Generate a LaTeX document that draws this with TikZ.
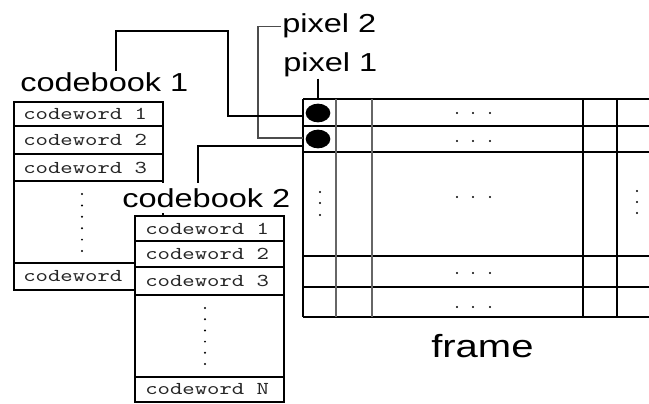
\documentclass[tikz,border=0pt]{standalone}
\usepackage{fontspec}
\newfontfamily\labelfont[FakeStretch=1.25]{Liberation Sans}
\newfontfamily\wordfont[FakeStretch=1.3]{lmmono10-regular.otf}
\usetikzlibrary{shapes.geometric}

\tikzset{
  boxline/.style={line width=1.6pt},
  gridline/.style={line width=1.4pt},
  greyline/.style={line width=1.8pt, black!60},
  linkline/.style={line width=1.3pt},
  thinlink/.style={line width=1pt, black!70},
  bigtext/.style={inner sep=0.75pt, font=\labelfont\fontsize{19.5}{22}\selectfont},
  wordtext/.style={anchor=west, inner sep=0.75pt, text=black!85, font=\wordfont\fontsize{13.6}{15}\selectfont},
  pixdot/.style={ellipse, fill=black, inner sep=0pt, minimum width=18.5pt, minimum height=14pt},
}

\begin{document}
\begin{tikzpicture}[x=0.75pt,y=0.75pt,yscale=-1,xscale=1]
\useasboundingbox (0,0) rectangle (649,403);

%Frame grid
\foreach \y in {99,126,152,256,287,317}
  \draw [gridline] (303,\y) -- (649,\y) ;
\draw [gridline] (303,99) -- (303,317) ;
\draw [greyline] (336,99) -- (336,317) ;
\draw [greyline] (372,99) -- (372,317) ;
\draw [gridline] (583,99) -- (583,317) ;
\draw [gridline] (617,99) -- (617,317) ;
%Frame dots
\foreach \y in {113,141,197,273,307}
  \foreach \x in {457,473,490}
    \fill (\x,\y) circle (1.1) ;
\foreach \y in {192,203,215}
  \fill (320,\y) circle (1.1) ;
\foreach \y in {191,202,213}
  \fill (637,\y) circle (1.1) ;

%Pixels
\node [pixdot] (pix1) at (318,113) {};
\node [pixdot] (pix2) at (318,139) {};

%Entry points on the frame
\coordinate (entry1) at (303,116) ;
\coordinate (entry2) at (303,138) ;
\coordinate (entry3) at (303,146) ;
\coordinate (frametop) at (303,99) ;
\coordinate (bend1) at (228,31) ;
\coordinate (bend2) at (258,138) ;

% Text Node
\node [bigtext, anchor=base west] (lbpixtwo) at (281,33) {pixel 2};
% Text Node
\node [bigtext, anchor=base west] (lbpixone) at (282,72) {pixel 1};
% Text Node
\node [bigtext, anchor=base west] (lbcbone) at (19,91) {codebook 1};
% Text Node
\node [bigtext, anchor=base west, font=\labelfont\fontsize{24}{27}\selectfont] (frame) at (430,357) {frame};

%Connectors
\draw [linkline] (lbpixone.south -| pix1) -- (pix1 |- frametop) ;
\draw [thinlink] (lbpixtwo.west) -| (bend2) -- (entry2) ;
\draw [linkline] ([xshift=9pt]lbcbone.north) |- (bend1) |- (entry1) ;

%Codebook 1
\draw [boxline, fill=white] (14,102) rectangle (163,290) ;
\foreach \y in {126,154,181,263}
  \draw [boxline] (14,\y) -- (163,\y) ;
\foreach \i in {0,...,5}
  \fill (82,194+11.4*\i) circle (1.1) ;
% Text Node
\node [wordtext] (cbonewa) at (22,114) {codeword 1};
\node [wordtext] (cbonewb) at (22,140) {codeword 2};
\node [wordtext] (cbonewc) at (22,167.5) {codeword 3};
\node [wordtext] (cbonewn) at (22,276.5) {codeword N};

% Text Node
\node [bigtext, anchor=base west, fill=white, inner ysep=4pt] (lbcbtwo) at (121,207) {codebook 2};
\draw [linkline] ([xshift=-6pt]lbcbtwo.north) |- (entry3) ;

%Codebook 2
\draw [boxline, fill=white] (135,216) rectangle (284,402) ;
\foreach \y in {241,267,295,377}
  \draw [boxline] (135,\y) -- (284,\y) ;
\foreach \i in {0,...,5}
  \fill (205,308+11.2*\i) circle (1.1) ;
% Text Node
\node [wordtext] (cbtwowa) at (144,228.5) {codeword 1};
\node [wordtext] (cbtwowb) at (144,254) {codeword 2};
\node [wordtext] (cbtwowc) at (144,281) {codeword 3};
\node [wordtext] (cbtwown) at (144,389.5) {codeword N};

\end{tikzpicture}
\end{document}
